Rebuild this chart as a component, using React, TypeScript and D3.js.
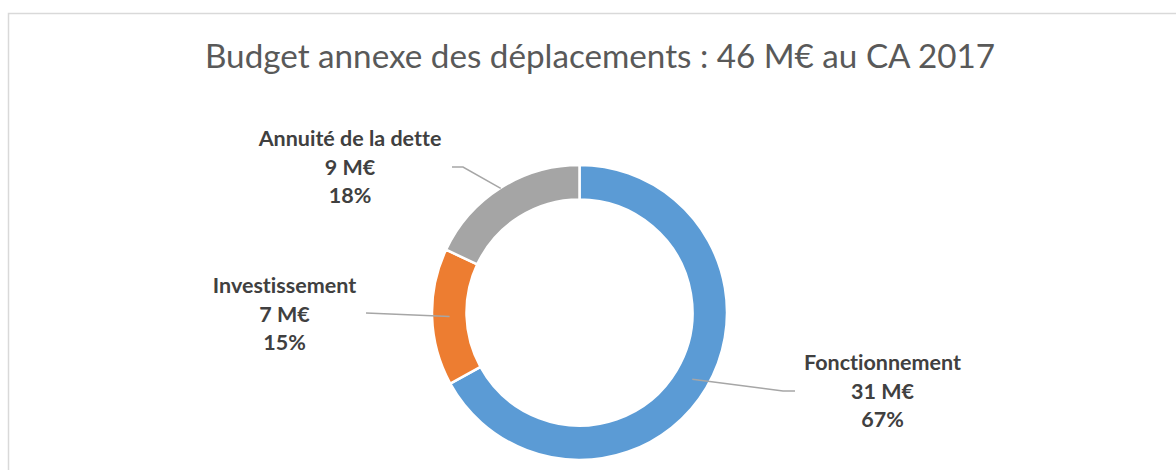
import React from "react";
import * as d3 from "d3";

const categories = ["Fonctionnement", "Investissement", "Annuité de la dette"];
const amounts = ["31 M€", "7 M€", "9 M€"];
const percents = [67, 15, 18];
const colors = ["#5b9bd5", "#ed7d31", "#a5a5a5"];
const title = "Budget annexe des déplacements : 46 M€ au CA 2017";

// label layout: text center, first baseline, leader start radius, elbow, line end
const labelLayout = [
  { x: 882.5, y: 370, r0: 131, elbow: [783, 391], end: [795, 391] },
  { x: 284.5, y: 293, r0: 130, elbow: [366, 313], end: [366, 313] },
  { x: 350, y: 146, r0: 147, elbow: [463, 167], end: [452, 167] },
];

export default function App() {
  const W = 1176;
  const H = 470;
  const cx = 579.5;
  const cy = 312.5;
  const outerR = 147.5;
  const innerR = 113;

  const pie = d3
    .pie<number>()
    .sort(null)
    .value((d) => d);
  const arcs = pie(percents);
  const arc = d3
    .arc<d3.PieArcDatum<number>>()
    .innerRadius(innerR)
    .outerRadius(outerR);

  const font = "Lato, 'Open Sans', sans-serif";

  return (
    <div style={{ position: "absolute", left: 0, top: 0 }}>
      <svg width={W} height={H} style={{ display: "block" }}>
        <rect x={0} y={0} width={W} height={H} fill="#ffffff" />
        <rect
          x={8.5}
          y={13.5}
          width={W + 10}
          height={H + 10}
          fill="#ffffff"
          stroke="#d9d9d9"
          strokeWidth={1.5}
        />
        <text
          x={600}
          y={68}
          textAnchor="middle"
          fontFamily={font}
          fontSize={33}
          fill="#595959"
          textLength={790}
          lengthAdjust="spacingAndGlyphs"
        >
          {title}
        </text>
        <g transform={`translate(${cx},${cy})`}>
          {arcs.map((a, i) => (
            <path
              key={i}
              d={arc(a) || ""}
              fill={colors[i]}
              stroke="#ffffff"
              strokeWidth={2.5}
            />
          ))}
        </g>
        {arcs.map((a, i) => {
          const L = labelLayout[i];
          const mid = (a.startAngle + a.endAngle) / 2;
          const sx = cx + L.r0 * Math.sin(mid);
          const sy = cy - L.r0 * Math.cos(mid);
          return (
            <polyline
              key={"l" + i}
              points={`${sx},${sy} ${L.elbow[0]},${L.elbow[1]} ${L.end[0]},${L.end[1]}`}
              fill="none"
              stroke="#a6a6a6"
              strokeWidth={1.5}
            />
          );
        })}
        {categories.map((c, i) => {
          const L = labelLayout[i];
          const lines = [c, amounts[i], `${percents[i]}%`];
          return (
            <text
              key={"t" + i}
              textAnchor="middle"
              fontFamily={font}
              fontWeight={700}
              fontSize={21.5}
              fill="#404040"
              style={{ fontVariantLigatures: "none" }}
            >
              {lines.map((ln, j) => (
                <tspan key={j} x={L.x} y={L.y + j * 28.5}>
                  {ln}
                </tspan>
              ))}
            </text>
          );
        })}
      </svg>
    </div>
  );
}
